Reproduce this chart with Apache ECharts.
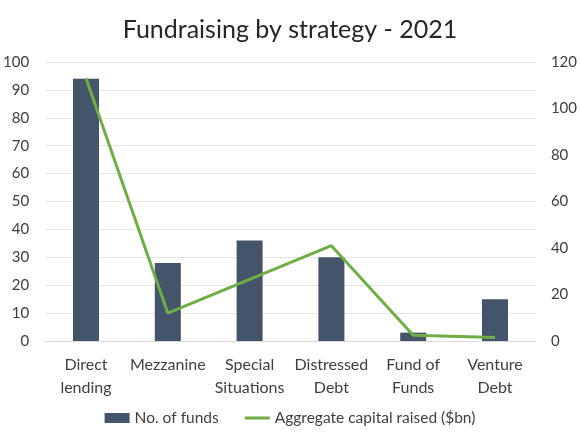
<!DOCTYPE html>
<html>
<head>
<meta charset="utf-8">
<script src="https://cdn.jsdelivr.net/npm/echarts@6/dist/echarts.min.js"></script>
<style>
  html, body { margin: 0; padding: 0; background: #fff; }
  #chart { width: 580px; height: 435px; }
</style>
</head>
<body>
<div id="chart"></div>
<script>
const categories = ["Direct\nlending", "Mezzanine", "Special\nSituations", "Distressed\nDebt", "Fund of\nFunds", "Venture\nDebt"];
const fundCounts = [94, 28, 36, 30, 3, 15];
const capitalRaised = [113, 12, 26.5, 41, 2.5, 1.5];

const chart = echarts.init(document.getElementById("chart"));
const font = "Lato, 'Noto Sans', sans-serif";
const option = {
  animation: false,
  textStyle: { fontFamily: font },
  title: {
    text: "Fundraising by strategy - 2021",
    left: "center",
    top: 12,
    textStyle: { fontFamily: font, fontSize: 25, fontWeight: "normal", color: "#262626" },
  },
  legend: {
    bottom: 4,
    itemGap: 26,
    itemWidth: 25,
    itemHeight: 10,
    textStyle: { fontFamily: font, fontSize: 15.5, color: "#404040" },
    data: [
      { name: "No. of funds", icon: "rect" },
      { name: "Aggregate capital raised ($bn)", icon: "path://M0,0H25V3H0Z" },
    ],
  },
  grid: { left: 42, right: 42, top: 62, bottom: 94 },
  xAxis: {
    type: "category",
    data: categories,
    axisTick: { show: false },
    axisLine: { lineStyle: { color: "#d9d9d9" } },
    axisLabel: { color: "#404040", fontSize: 16, lineHeight: 23, margin: 12, interval: 0 },
  },
  yAxis: [
    {
      type: "value",
      min: 0,
      max: 100,
      interval: 10,
      axisLabel: { color: "#404040", fontSize: 15, margin: 16 },
      splitLine: { lineStyle: { color: "#e6e6e6" } },
    },
    {
      type: "value",
      min: 0,
      max: 120,
      interval: 20,
      axisLabel: { color: "#404040", fontSize: 15, margin: 15 },
      splitLine: { show: false },
    },
  ],
  series: [
    {
      name: "No. of funds",
      type: "bar",
      data: fundCounts,
      barWidth: 26,
      itemStyle: { color: "#44546a" },
    },
    {
      name: "Aggregate capital raised ($bn)",
      type: "line",
      yAxisIndex: 1,
      data: capitalRaised,
      symbol: "none",
      lineStyle: { color: "#70ad47", width: 3 },
      itemStyle: { color: "#70ad47" },
    },
  ],
};
chart.setOption(option);
</script>
</body>
</html>
